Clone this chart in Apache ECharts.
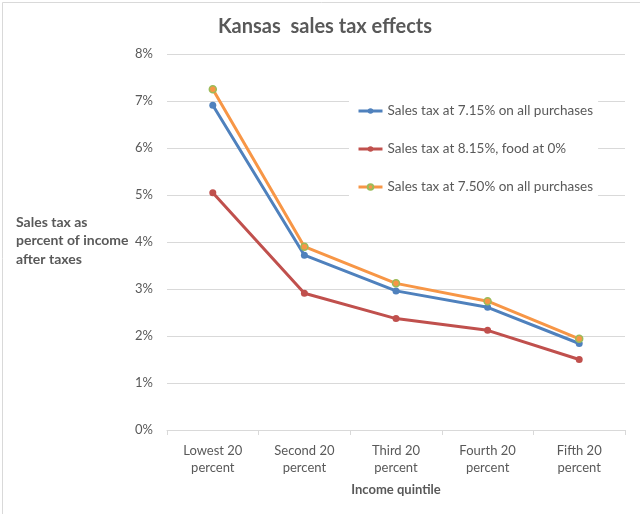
<!DOCTYPE html>
<html>
<head>
<meta charset="utf-8">
<script src="https://cdn.jsdelivr.net/npm/echarts@6/dist/echarts.min.js"></script>
<style>
html,body{margin:0;padding:0;background:#fff;}
#chart{width:640px;height:514px;}
</style>
</head>
<body>
<div id="chart"></div>
<script>
const categories = ["Lowest 20\npercent", "Second 20\npercent", "Third 20\npercent", "Fourth 20\npercent", "Fifth 20\npercent"];
const seriesNames = ["Sales tax at 7.15% on all purchases", "Sales tax at 8.15%, food at 0%", "Sales tax at 7.50% on all purchases"];
const tax715 = [6.91, 3.72, 2.96, 2.61, 1.84];
const tax815Food0 = [5.05, 2.91, 2.37, 2.12, 1.50];
const tax750 = [7.25, 3.90, 3.12, 2.74, 1.94];
const yTicks = [0, 1, 2, 3, 4, 5, 6, 7, 8];

const FONT = 'Lato, "Open Sans", sans-serif';
const TXT = '#595959';
const chart = echarts.init(document.getElementById('chart'), null, {renderer: 'canvas'});

function mkSeries(name, data, color, border) {
  return {
    name: name, type: 'line', data: data,
    symbol: 'circle', symbolSize: 7,
    lineStyle: {color: color, width: 3},
    itemStyle: {color: color, borderColor: border || color, borderWidth: border ? 1.5 : 0},
    emphasis: {disabled: true},
    z: 3
  };
}

chart.setOption({
  backgroundColor: '#fff',
  animation: false,
  textStyle: {fontFamily: FONT},
  title: {
    text: 'Kansas  sales tax effects',
    left: 320, top: 12, textAlign: 'center',
    textStyle: {fontFamily: FONT, fontSize: 20, fontWeight: 'bold', color: TXT}
  },
  graphic: [
    {type: 'rect', left: 0, top: 0, shape: {width: 638, height: 512},
     style: {fill: 'none', stroke: '#D9D9D9', lineWidth: 1}, silent: true, z: -1},
    {type: 'text', left: 16, top: 213,
     style: {text: 'Sales tax as\npercent of income\nafter taxes', fill: TXT,
             font: 'bold 14px ' + FONT, lineHeight: 18.5}}
  ],
  legend: {
    orient: 'vertical', left: 349, top: 101,
    backgroundColor: '#fff', padding: [3, 5, 2, 8],
    itemGap: 24, itemWidth: 24, itemHeight: 7,
    lineStyle: {width: 3},
    textStyle: {fontFamily: FONT, fontSize: 13.5, color: TXT},
    data: seriesNames
  },
  grid: {left: 167, right: 15, top: 54, bottom: 84, containLabel: false},
  xAxis: {
    type: 'category', data: categories, boundaryGap: true,
    axisLine: {lineStyle: {color: '#D9D9D9', width: 1}},
    axisTick: {show: true, interval: 0, length: 5, lineStyle: {color: '#D9D9D9'}},
    axisLabel: {interval: 0, margin: 12, fontSize: 13, color: TXT, lineHeight: 17, fontFamily: FONT},
    name: 'Income quintile', nameLocation: 'middle', nameGap: 53,
    nameTextStyle: {fontSize: 13, fontWeight: 'bold', color: TXT, fontFamily: FONT}
  },
  yAxis: {
    type: 'value', min: yTicks[0], max: yTicks[yTicks.length - 1], interval: 1,
    axisLine: {show: false}, axisTick: {show: false},
    splitLine: {lineStyle: {color: '#D9D9D9', width: 1}},
    axisLabel: {formatter: '{value}%', margin: 14, fontSize: 13, color: TXT, fontFamily: FONT}
  },
  series: [
    mkSeries(seriesNames[0], tax715, '#4F81BD'),
    mkSeries(seriesNames[1], tax815Food0, '#C0504D'),
    mkSeries(seriesNames[2], tax750, '#F79646', '#9BBB59')
  ]
});
</script>
</body>
</html>
